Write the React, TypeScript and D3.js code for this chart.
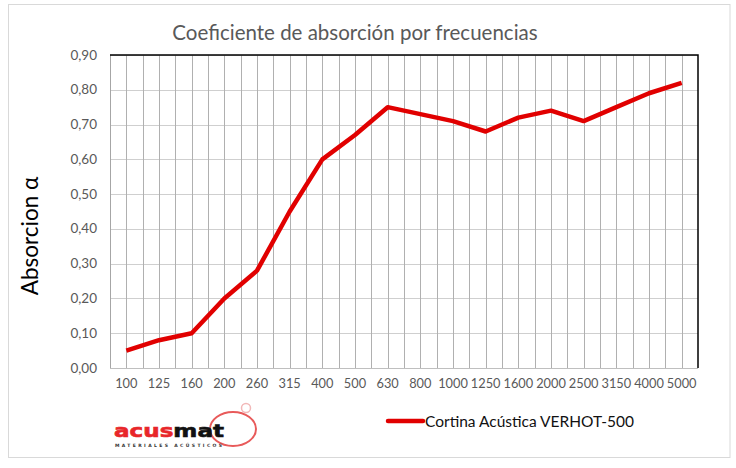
import React from "react";
import * as d3 from "d3";

const frequencies = [
  "100", "125", "160", "200", "260", "315", "400", "500", "630",
  "800", "1000", "1250", "1600", "2000", "2500", "3150", "4000", "5000",
];
const absorption = [
  0.05, 0.08, 0.1, 0.2, 0.28, 0.45, 0.6, 0.67, 0.75,
  0.73, 0.71, 0.68, 0.72, 0.74, 0.71, 0.75, 0.79, 0.82,
];
const yTicks = [0, 0.1, 0.2, 0.3, 0.4, 0.5, 0.6, 0.7, 0.8, 0.9];
const seriesName = "Cortina Acústica VERHOT-500";
const title = "Coeficiente de absorción por frecuencias";

const W = 736;
const H = 468;
const plot = { left: 110, right: 698, top: 55, bottom: 368 };
const font = "Lato, 'Open Sans', sans-serif";

export default function App() {
  const x = d3
    .scaleBand<string>()
    .domain(frequencies)
    .range([plot.left, plot.right])
    .padding(0);
  const y = d3.scaleLinear().domain([0, 0.9]).range([plot.bottom, plot.top]);
  const bw = x.bandwidth();

  const line = d3
    .line<number>()
    .x((_, i) => (x(frequencies[i]) as number) + bw / 2)
    .y((d) => y(d));

  const fmt = (v: number) => v.toFixed(2).replace(".", ",");

  return (
    <div style={{ position: "absolute", left: 0, top: 0 }}>
      <svg width={W} height={H} style={{ display: "block", background: "#fff" }}>
        {/* chart frame */}
        <rect x={8.5} y={4.5} width={721.5} height={453} fill="#fff" stroke="#d9d9d9" />

        <text
          x={355}
          y={40}
          textAnchor="middle"
          fontFamily={font}
          fontSize={20.5}
          fill="#595959"
        >
          {title}
        </text>

        {/* horizontal gridlines */}
        {yTicks.map((t) => (
          <line
            key={"h" + t}
            x1={plot.left}
            x2={plot.right}
            y1={Math.round(y(t)) + 0.5}
            y2={Math.round(y(t)) + 0.5}
            stroke="#cfcfcf"
          />
        ))}

        {/* vertical gridlines: category edges and centers */}
        {frequencies.map((f) => {
          const x0 = x(f) as number;
          return (
            <g key={"v" + f}>
              <line x1={Math.round(x0) + 0.5} x2={Math.round(x0) + 0.5} y1={plot.top} y2={plot.bottom} stroke="#b0b0b0" />
              <line x1={Math.round(x0 + bw / 2) + 0.5} x2={Math.round(x0 + bw / 2) + 0.5} y1={plot.top} y2={plot.bottom} stroke="#b0b0b0" />
            </g>
          );
        })}

        {/* axes */}
        <line x1={plot.left + 0.5} x2={plot.left + 0.5} y1={plot.top} y2={plot.bottom} stroke="#a6a6a6" />
        <line x1={plot.left} x2={plot.right} y1={plot.bottom + 0.5} y2={plot.bottom + 0.5} stroke="#bfbfbf" />
        {/* plot border top & right */}
        <path
          d={`M${plot.left},${plot.top} H${plot.right} V${plot.bottom}`}
          fill="none"
          stroke="#000"
          strokeWidth={1.5}
        />

        {/* y tick labels */}
        {yTicks.map((t) => (
          <text
            key={"yl" + t}
            x={97}
            y={y(t) + 4.5}
            textAnchor="end"
            fontFamily={font}
            fontSize={13.5}
            fill="#595959"
          >
            {fmt(t)}
          </text>
        ))}

        {/* x tick labels */}
        {frequencies.map((f) => (
          <text
            key={"xl" + f}
            x={(x(f) as number) + bw / 2}
            y={388}
            textAnchor="middle"
            fontFamily={font}
            fontSize={12.8}
            fill="#595959"
          >
            {f}
          </text>
        ))}

        <text
          transform="translate(38,236) rotate(-90)"
          textAnchor="middle"
          fontFamily={font}
          fontSize={22.5}
          fill="#000"
        >
          Absorcion α
        </text>

        {/* series */}
        <path
          d={line(absorption) ?? ""}
          fill="none"
          stroke="#e10000"
          strokeWidth={4.5}
          strokeLinejoin="round"
        />

        {/* legend */}
        <line x1={388} x2={423} y1={421} y2={421} stroke="#e10000" strokeWidth={4.5} strokeLinecap="round" />
        <text x={425} y={426.5} fontFamily={font} fontSize={15.5} fill="#111">
          {seriesName}
        </text>

        {/* logo */}
        <g>
          <ellipse cx={233} cy={429} rx={23} ry={17} fill="none" stroke="#e85a5a" strokeWidth={2} />
          <circle cx={246} cy={408} r={4.5} fill="none" stroke="#f2b8b8" strokeWidth={1.5} />
          <text x={114} y={437} fontFamily="'DejaVu Sans', sans-serif" fontWeight="bold" fontSize={18} textLength={110} lengthAdjust="spacingAndGlyphs" stroke="#000" strokeWidth={0}>
            <tspan fill="#e8262a" stroke="#e8262a" strokeWidth={0.6}>acus</tspan>
            <tspan fill="#111" stroke="#111" strokeWidth={0.6}>mat</tspan>
          </text>
          <text x={115} y={447} fontFamily="'DejaVu Sans', sans-serif" fontWeight="bold" fontSize={4.5} fill="#333" textLength={107} lengthAdjust="spacing">
            MATERIALES ACÚSTICOS
          </text>
        </g>
      </svg>
    </div>
  );
}
